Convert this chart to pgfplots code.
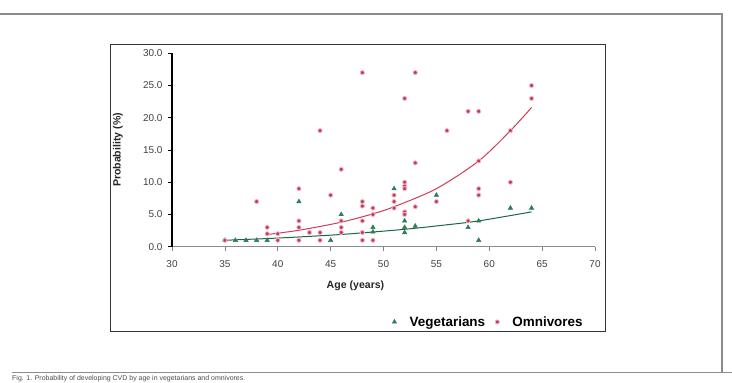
\documentclass[border=0pt]{standalone}
\usepackage{pgfplots}
\pgfplotsset{compat=1.18}
\usepackage{fontspec}
\setmainfont{Liberation Sans}

\definecolor{vegcol}{HTML}{2E7D58}
\definecolor{vegline}{HTML}{1F6444}
\definecolor{omncol}{HTML}{C8375A}
\definecolor{omnline}{HTML}{D23A55}

% Vegetarians: age (years) vs probability (%)
\pgfplotstableread{
age prob
35 1
36 1
37 1
38 1
39 1
42 7
45 1
46 5
49 3
49 2.3
51 9
52 4
52 3
52 2.2
53 3.2
55 8
58 3
59 4
59 1
62 6
64 6
}\vegdata

% Omnivores: age (years) vs probability (%)
\pgfplotstableread{
age prob
35 1
38 7
39 3
39 2
40 2
40 1
42 9
42 4
42 3
42 1
43 2.2
44 18
44 2.2
44 1
45 8
46 12
46 4
46 3
46 2.2
48 27
48 7
48 6.3
48 4
48 2.2
48 1
49 6
49 5
49 1
51 8
51 7
51 6
52 23
52 10
52 9.4
52 9
52 5.4
52 5
53 27
53 13
53 6.2
55 7
56 18
58 21
58 4
59 21
59 13.3
59 9
59 8
62 18
62 10
64 25
64 23
}\omndata

% Exponential trend lines
\pgfplotstableread{
age prob
35 1.0
40 1.34
46 1.9
52 2.7
56 3.4
59 4.0
64 5.4
}\vegtrend

\pgfplotstableread{
age prob
38.8 1.85
42 2.55
46 3.8
49 5.1
51 6.2
55 9.0
59 13.3
62 18.0
64 21.6
}\omntrend

\begin{document}
\begin{tikzpicture}[x=1bp,y=1bp]
\useasboundingbox (0,0) rectangle (732,382);
% outer frame of the figure
\draw[black!45, line width=1.2bp] (0,368) -- (722,368) -- (722,10);
\draw[black!45, line width=1.2bp] (12,9.5) -- (732,9.5);
% chart box
\draw[black!80, line width=1bp] (110,338) rectangle (605,51);

\begin{axis}[
  at={(172bp,135.3bp)}, anchor=south west,
  width=423bp, height=193.4bp, scale only axis,
  xmin=30, xmax=70, ymin=0, ymax=30,
  axis lines*=left,
  clip=false,
  x axis line style={black!45, line width=0.8bp},
  y axis line style={black, line width=1.2bp},
  xtick={30,35,...,70},
  ytick={0,5,...,30},
  tick align=outside,
  major tick length=4bp,
  x tick style={black!50, line width=0.6bp},
  y tick style={black, line width=0.8bp},
  tick label style={font=\fontsize{10}{12}\selectfont, text=black!75},
  /pgf/number format/assume math mode=true,
  yticklabel={\pgfmathprintnumber[fixed, fixed zerofill, precision=1]{\tick}},
  xticklabel style={yshift=-6bp},
  yticklabel style={xshift=-2bp},
  legend columns=2,
  legend style={draw=none, fill=none, at={(axis description cs:0.748,-0.389)}, anchor=center,
    font=\bfseries\fontsize{13.5}{16}\selectfont,
    /tikz/every odd column/.append style={column sep=11bp},
    /tikz/every even column/.append style={column sep=8bp}},
  legend cell align=left,
]
\addplot[only marks, mark=triangle*, mark size=2.6bp, color=vegcol] table[x=age,y=prob]{\vegdata};
\addlegendentry{Vegetarians}
\addplot[only marks, mark=*, mark size=2.1bp, color=omncol, mark options={draw=omncol!35!white, line width=0.8bp, fill=omncol}] table[x=age,y=prob]{\omndata};
\addlegendentry{Omnivores}
\addplot[vegline, line width=1bp, smooth, forget plot] table[x=age,y=prob]{\vegtrend};
\addplot[omnline, line width=1bp, smooth, forget plot] table[x=age,y=prob]{\omntrend};
\end{axis}

% axis titles
\node[rotate=90, font=\bfseries\fontsize{10.6}{12}\selectfont, text=black!85] at (118,232) {Probability (\%)};
\node[font=\bfseries\fontsize{10.6}{12}\selectfont, text=black!85] at (355.5,96) {Age (years)};

% caption
\node[anchor=base west, font=\fontsize{7}{8}\selectfont, text=black!70, inner sep=0pt] at (12,2) {Fig. 1. Probability of developing CVD by age in vegetarians and omnivores.};
\end{tikzpicture}
\end{document}
